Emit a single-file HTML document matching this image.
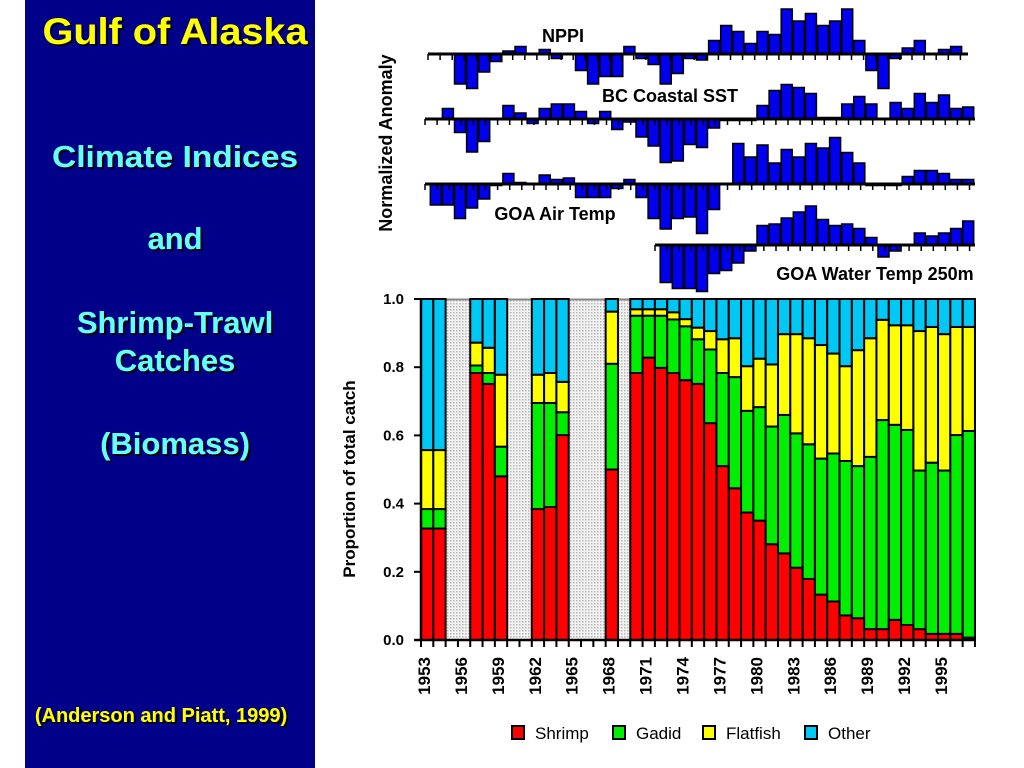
<!DOCTYPE html>
<html><head><meta charset="utf-8"><style>
html,body{margin:0;padding:0;background:#fff;}
svg{display:block;font-family:"Liberation Sans",Arial,sans-serif;}
.lt{font-weight:bold;text-anchor:middle;}
</style></head><body>
<svg id="root" width="1024" height="768" viewBox="0 0 1024 768" xmlns="http://www.w3.org/2000/svg">
<defs>
<pattern id="dots" width="3" height="3" patternUnits="userSpaceOnUse">
<rect width="3" height="3" fill="#f2f2f2"/><rect x="0" y="0" width="1.5" height="1.5" fill="#b8b8b8"/>
</pattern>
<filter id="sh"><feDropShadow dx="2" dy="2" stdDeviation="0.3" flood-color="#000"/></filter>
</defs>
<rect x="25" y="0" width="290" height="768" fill="#000088"/>
<g filter="url(#sh)">
<text x="175" y="44" class="lt" font-size="37" fill="#ffff00" textLength="265" lengthAdjust="spacingAndGlyphs">Gulf of Alaska</text>
<text x="175" y="167" class="lt" font-size="31" fill="#66ffff" textLength="246" lengthAdjust="spacingAndGlyphs">Climate Indices</text>
<text x="175" y="249" class="lt" font-size="31" fill="#66ffff">and</text>
<text x="175" y="333" class="lt" font-size="31" fill="#66ffff">Shrimp-Trawl</text>
<text x="175" y="371" class="lt" font-size="31" fill="#66ffff">Catches</text>
<text x="175" y="454" class="lt" font-size="31" fill="#66ffff">(Biomass)</text>
<text x="161" y="722" class="lt" font-size="20" fill="#ffff00">(Anderson and Piatt, 1999)</text>
</g>
<g id="anom"></g>
<g id="catch"></g>
</svg>
<script>
// ---- Anomaly data ----
const nppiStart = 1956;
const nppiValues = [-2.0,-2.3,-1.2,-0.5,0.2,0.5,0,0.3,-0.3,0,-1.1,-2.0,-1.5,-1.5,0.5,-0.3,-0.7,-2.0,-1.3,-0.3,-0.4,0.9,1.9,1.5,0.7,1.5,1.3,3.0,2.2,2.7,1.9,2.2,3.0,0.9,-1.1,-2.3,-0.3,0.4,0.9,0,0.3,0.5];
const sstStart = 1955;
const sstValues = [0.7,-0.9,-2.2,-1.5,0,0.9,0.4,-0.3,0.7,1.0,1.0,0.5,-0.3,0.5,-0.7,-0.2,-1.2,-1.8,-2.9,-2.8,-1.7,-1.9,-0.6,-0.1,-0.1,-0.1,0.9,1.9,2.3,2.1,1.7,0.1,0.1,1.0,1.5,1.0,0,1.1,0.7,1.7,1.1,1.6,0.7,0.8];
const airStart = 1954;
const airValues = [-1.4,-1.4,-2.3,-1.6,-1.0,-0.1,0.7,0.1,0,0.6,0.3,0.4,-0.9,-0.9,-0.9,-0.3,0.3,-0.9,-2.3,-3.0,-2.3,-2.2,-3.3,-1.7,0,2.7,1.8,2.6,1.4,2.3,1.8,2.7,2.4,3.1,2.1,1.4,-0.1,-0.1,-0.1,0.5,0.9,0.9,0.7,0.3,0.3];
const waterStart = 1973;
const waterValues = [-2.5,-2.9,-2.9,-3.1,-1.9,-1.7,-1.2,-0.4,1.3,1.4,1.8,2.2,2.6,1.7,1.3,1.4,1.1,0.5,-0.8,-0.4,0,0.8,0.6,0.8,1.1,1.6];
const panelTitles = ["NPPI","BC Coastal SST","GOA Air Temp","GOA Water Temp 250m"];

// ---- Catch data ----
const catchYears = [1953,1954,1957,1958,1959,1962,1963,1964,1968,1970,1971,1972,1973,1974,1975,1976,1977,1978,1979,1980,1981,1982,1983,1984,1985,1986,1987,1988,1989,1990,1991,1992,1993,1994,1995,1996,1997];
const shrimp = [.327,.327,.783,.751,.48,.384,.39,.601,.5,.783,.828,.798,.783,.762,.751,.636,.51,.445,.374,.35,.281,.254,.212,.179,.133,.113,.072,.064,.032,.032,.059,.044,.032,.018,.018,.018,.007];
const gadid = [.057,.057,.022,.032,.087,.311,.305,.067,.31,.168,.123,.153,.157,.158,.131,.216,.273,.326,.298,.333,.345,.406,.394,.395,.399,.434,.453,.446,.505,.613,.572,.572,.465,.502,.479,.583,.606];
const flatfish = [.173,.173,.067,.074,.211,.083,.088,.089,.153,.019,.019,.019,.021,.021,.034,.054,.099,.114,.131,.142,.182,.237,.291,.311,.333,.293,.278,.34,.348,.294,.292,.307,.409,.398,.4,.317,.305];
const gapYears = [1955,1956,1960,1961,1965,1966,1967,1969];
const yTicks = [0,0.2,0.4,0.6,0.8,1.0];
const xLabels = [1953,1956,1959,1962,1965,1968,1971,1974,1977,1980,1983,1986,1989,1992,1995];
const legendNames = ["Shrimp","Gadid","Flatfish","Other"];

const NS="http://www.w3.org/2000/svg";
function mk(tag, attrs, parent){const e=document.createElementNS(NS,tag);for(const k in attrs)e.setAttribute(k,attrs[k]);parent.appendChild(e);return e;}

const ax = yr => 460 + (yr-1956)*12.1;
const UNIT = 15;
const anom = document.getElementById('anom');
const panels = [
 {vals:nppiValues,start:nppiStart,y0:54,x1:428,x2:968,slug:'nppi',tx:563,ty:42},
 {vals:sstValues,start:sstStart,y0:119,x1:425,x2:975,slug:'bc-coastal-sst',tx:670,ty:102},
 {vals:airValues,start:airStart,y0:184,x1:425,x2:975,slug:'goa-air-temp',tx:555,ty:220},
 {vals:waterValues,start:waterStart,y0:245,x1:655,x2:975,slug:'goa-water-temp',tx:875,ty:280}
];
panels.forEach((p,pi)=>{
  const g=mk('g',{},anom);
  
  
  p.vals.forEach((v,i)=>{
    const yr=p.start+i; const cx=ax(yr); const h=v*UNIT;
    if(Math.abs(h)<0.5){ return; }
    const r=mk('rect',{x:cx-5.5,y:h>0?p.y0-h:p.y0,width:11,height:Math.abs(h),fill:'#0000ee',stroke:'#000','stroke-width':1.5},g);
    
    
  });
  const ln=mk('line',{x1:p.x1,x2:p.x2,y1:p.y0,y2:p.y0,stroke:'#000','stroke-width':3},g);
  
  
  for(let x=p.x1; x<=p.x2+0.5; x+=12.1){
    const t=mk('line',{x1:x,x2:x,y1:p.y0,y2:p.y0+6,stroke:'#000','stroke-width':1.5},g);
    
    
  }
  const tt=mk('text',{x:p.tx,y:p.ty,'text-anchor':'middle','font-size':18,'font-weight':'bold',fill:'#000'},g);
  tt.textContent=panelTitles[pi];
  
  
});
const at=mk('text',{x:0,y:0,transform:'translate(392,143) rotate(-90)','text-anchor':'middle','font-size':18,'font-weight':'bold'},anom);
at.textContent='Normalized Anomaly';



const C=document.getElementById('catch');
const SLOT=12.31, X0=421, Y0=640, Y1=299;
const xb = yr => X0 + (yr-1953)*SLOT;
const yv = v => Y0 - v*(Y0-Y1);
gapYears.forEach(yr=>{
  const r=mk('rect',{x:xb(yr),y:Y1,width:SLOT,height:Y0-Y1,fill:'url(#dots)'},C);
  
  
});
mk('line',{x1:X0,x2:975,y1:Y1+0.5,y2:Y1+0.5,stroke:'#888','stroke-width':2},C);
const colors=['#ff0000','#00ee00','#ffff00','#00c8f5'];
catchYears.forEach((yr,i)=>{
  const parts=[shrimp[i],gadid[i],flatfish[i],1-shrimp[i]-gadid[i]-flatfish[i]];
  let cum=0;
  parts.forEach((v,k)=>{
    const r=mk('rect',{x:xb(yr),y:yv(cum+v),width:SLOT,height:v*(Y0-Y1),fill:colors[k],stroke:'#000','stroke-width':2},C);
    
    
    cum+=v;
  });
});
mk('line',{x1:X0,x2:X0,y1:Y1-1,y2:Y0+1,stroke:'#000','stroke-width':2.5},C);
mk('line',{x1:X0-6,x2:976,y1:Y0,y2:Y0,stroke:'#000','stroke-width':2.5},C);
yTicks.forEach(v=>{
  const t=mk('line',{x1:X0-7,x2:X0,y1:yv(v),y2:yv(v),stroke:'#000','stroke-width':2},C);
  
  
  const l=mk('text',{x:404,y:yv(v)+5,'text-anchor':'end','font-size':15,'font-weight':'bold'},C);
  l.textContent=v.toFixed(1);
  
  
});
for(let yr=1953; yr<=1998; yr++){
  const t=mk('line',{x1:xb(yr),x2:xb(yr),y1:Y0,y2:Y0+7,stroke:'#000','stroke-width':2},C);
  
  
}
xLabels.forEach(yr=>{
  const l=mk('text',{x:0,y:0,transform:`translate(${xb(yr)+9},657) rotate(-90)`,'text-anchor':'end','font-size':17,'font-weight':'bold'},C);
  l.textContent=yr;
  
  
});
const yt=mk('text',{x:0,y:0,transform:'translate(355,479) rotate(-90)','text-anchor':'middle','font-size':17,'font-weight':'bold'},C);
yt.textContent='Proportion of total catch';


const legX=[512,613,703,805];
legendNames.forEach((n,k)=>{
  const g=mk('g',{},C);
  
  
  mk('rect',{x:legX[k],y:726,width:12,height:13,fill:colors[k],stroke:'#000','stroke-width':2},g);
  const t=mk('text',{x:legX[k]+23,y:739,'font-size':17},g);
  t.textContent=n;
});
</script>
</body></html>
